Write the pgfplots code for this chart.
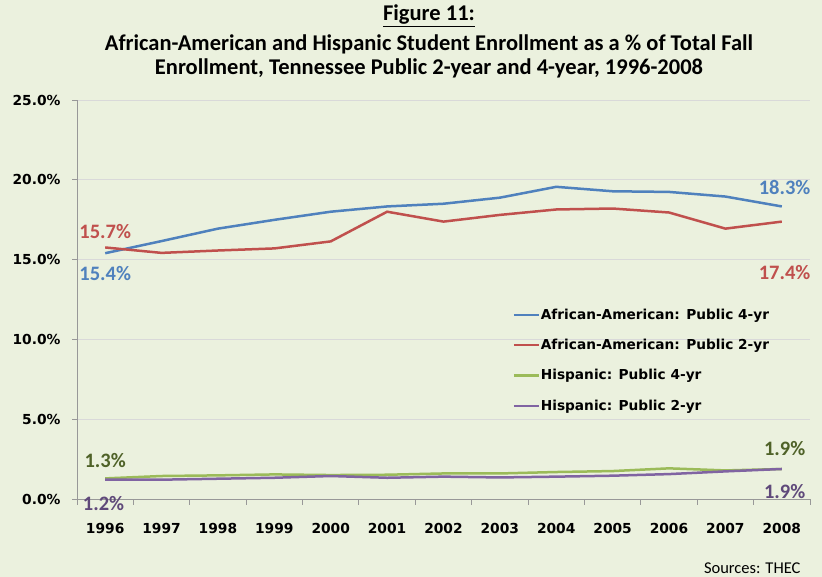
\documentclass[border=0pt]{standalone}
\usepackage{fontspec}
\setmainfont{Carlito}
\newfontfamily\tah{DejaVu Sans}
\usepackage{pgfplots}
\pgfplotsset{compat=1.18}
\usepackage{pgfplotstable}
\definecolor{bg}{HTML}{EBF1DE}
\definecolor{cblue}{HTML}{4F81BD}
\definecolor{cred}{HTML}{C0504D}
\definecolor{cgreen}{HTML}{9BBB59}
\definecolor{cpurple}{HTML}{8064A2}
\definecolor{lgreen}{HTML}{4F6228}
\definecolor{lpurple}{HTML}{5F497A}
\pgfplotstableread{
year aa4 aa2 h4 h2
1996 15.40 15.76 1.29 1.21
1997 16.16 15.42 1.44 1.21
1998 16.94 15.57 1.48 1.27
1999 17.49 15.70 1.54 1.33
2000 18.00 16.14 1.50 1.44
2001 18.33 18.00 1.52 1.33
2002 18.50 17.38 1.60 1.40
2003 18.88 17.80 1.60 1.35
2004 19.56 18.14 1.69 1.40
2005 19.28 18.20 1.75 1.46
2006 19.24 17.95 1.92 1.56
2007 18.95 16.94 1.79 1.73
2008 18.33 17.38 1.88 1.88
}\datatable
\begin{document}
\begin{tikzpicture}[x=1pt,y=1pt]
\fill[bg] (0,0) rectangle (822,577);
\path[use as bounding box] (0,0) rectangle (822,577);
\node[font=\fontsize{22.5}{24}\selectfont\bfseries] at (429,561) {\underline{Figure 11:}};
\node[font=\fontsize{22.5}{24}\selectfont\bfseries] at (429,533) {African-American and Hispanic Student Enrollment as a \% of Total Fall};
\node[font=\fontsize{22.5}{24}\selectfont\bfseries] at (429,509) {Enrollment, Tennessee Public 2-year and 4-year, 1996-2008};
\node[font=\fontsize{16.5}{18}\selectfont, anchor=east] at (804,9) {Sources: THEC};
\begin{axis}[
  at={(77pt,78pt)}, anchor=south west,
  scale only axis, width=733pt, height=399pt,
  xmin=1995.5, xmax=2008.5, ymin=0, ymax=25,
  clip=false,
  axis x line*=bottom, axis y line*=left,
  axis line style={draw=gray!85!black!70, line width=0.8pt},
  xtick={1996,...,2008},
  xticklabels={1996,1997,1998,1999,2000,2001,2002,2003,2004,2005,2006,2007,2008},
  minor xtick={1995.5,1996.5,...,2008.5},
  ytick={0,5,10,15,20,25},
  yticklabels={0.0\%,5.0\%,10.0\%,15.0\%,20.0\%,25.0\%},
  tick label style={font=\fontsize{13.8}{16}\selectfont\tah\bfseries},
  xticklabel style={yshift=-16pt},
  yticklabel style={xshift=-8pt},
  major x tick style={draw=none},
  minor x tick style={draw=gray!85!black!70, line width=0.8pt},
  major y tick style={draw=gray!85!black!70, line width=0.8pt},
  tick align=outside,
  major tick length=5pt, minor tick length=6pt,
  ymajorgrids, major grid style={draw=gray!30, line width=0.8pt},
  legend style={at={(0.590,0.4875)}, anchor=north west, draw=none, fill=none,
    font=\fontsize{13.7}{16}\selectfont\tah\bfseries, row sep=14.5pt,
    nodes={inner xsep=1pt},
    /tikz/every even column/.append style={column sep=0pt}},
  legend cell align=left,
  legend image code/.code={\draw[#1, line width=2.2pt] (0pt,0pt) -- (25pt,0pt);},
]
\addplot[cblue, line width=2.5pt] table[x=year,y=aa4] {\datatable};
\addlegendentry{African-American: Public 4-yr}
\addplot[cred, line width=2.5pt] table[x=year,y=aa2] {\datatable};
\addlegendentry{African-American: Public 2-yr}
\addplot[cgreen, line width=2.5pt] table[x=year,y=h4] {\datatable};
\addlegendentry{Hispanic: Public 4-yr}
\addplot[cpurple, line width=2.5pt] table[x=year,y=h2] {\datatable};
\addlegendentry{Hispanic: Public 2-yr}
\begin{scope}[font=\fontsize{20.5}{22}\selectfont\bfseries]
\node[cblue] at (axis cs:1996,14.1) {15.4\%};
\node[cblue] at (axis cs:2008.05,19.5) {18.3\%};
\node[cred] at (axis cs:1996,16.75) {15.7\%};
\node[cred] at (axis cs:2008.05,14.2) {17.4\%};
\node[lgreen] at (axis cs:1996,2.44) {1.3\%};
\node[lgreen] at (axis cs:2008.05,3.19) {1.9\%};
\node[lpurple] at (axis cs:1995.97,-0.3) {1.2\%};
\node[lpurple] at (axis cs:2008.05,0.44) {1.9\%};
\end{scope}
\end{axis}
\end{tikzpicture}
\end{document}
